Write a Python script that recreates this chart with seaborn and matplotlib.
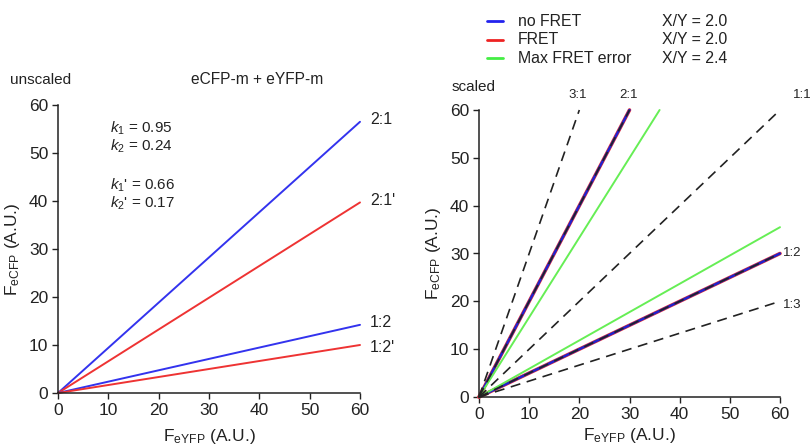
import matplotlib
matplotlib.use("Agg")
import matplotlib.pyplot as plt
import seaborn as sns
import pandas as pd
import numpy as np

sns.set_theme(style="ticks")
plt.rcParams['font.family'] = ['Liberation Sans', 'DejaVu Sans']
plt.rcParams['mathtext.fontset'] = 'custom'
plt.rcParams['mathtext.rm'] = 'Liberation Sans'
plt.rcParams['mathtext.it'] = 'Liberation Sans:italic'

# ---- data ----
# left panel (unscaled): end points of lines starting at origin
left_names = ["2:1", "2:1'", "1:2", "1:2'"]
left_x_end = [60, 60, 60, 60]
left_y_end = [56.5, 39.7, 14.2, 10.0]
left_colors = ["#3333ee", "#ee3333", "#3333ee", "#ee3333"]
left_label_y = [57.0, 40.2, 14.6, 9.4]

# right panel (scaled)
ref_names = ["3:1", "1:1", "1:3"]
ref_x_end = [20, 60, 60]
ref_y_end = [60, 60, 20]
ratio_x_end = [30, 60]      # 2:1 and 1:2
ratio_y_end = [60, 30]
err_x_end = [36, 60]        # max FRET error
err_y_end = [60, 35.5]

legend_labels = ["no FRET", "FRET", "Max FRET error"]
legend_ratio = ["X/Y = 2.0", "X/Y = 2.0", "X/Y = 2.4"]
legend_colors = ["#2222ee", "#ee2222", "#44ee44"]

ticks = [0, 10, 20, 30, 40, 50, 60]

W, H = 811, 448
fig = plt.figure(figsize=(W / 100, H / 100), dpi=100)
axL = fig.add_axes([58 / W, (H - 393) / H, (360 - 58) / W, (393 - 105) / H])
axR = fig.add_axes([479 / W, (H - 397) / H, (780 - 479) / W, (397 - 110) / H])


def seg(xe, ye):
    return pd.DataFrame({"x": [0, xe], "y": [0, ye]})


for xe, ye, c in zip(left_x_end, left_y_end, left_colors):
    sns.lineplot(data=seg(xe, ye), x="x", y="y", ax=axL, color=c, lw=1.4)

# right panel
for xe, ye in zip(ratio_x_end, ratio_y_end):
    sns.lineplot(data=seg(xe, ye), x="x", y="y", ax=axR, color="#ee3333", lw=2.6)
    sns.lineplot(data=seg(xe, ye), x="x", y="y", ax=axR, color="#2222cc", lw=1.8)
for xe, ye in zip(err_x_end, err_y_end):
    sns.lineplot(data=seg(xe, ye), x="x", y="y", ax=axR, color="#66ee55", lw=1.4)
for xe, ye in zip(ref_x_end + ratio_x_end, ref_y_end + ratio_y_end):
    sns.lineplot(data=seg(xe, ye), x="x", y="y", ax=axR, color="#222222", lw=1.2,
                 linestyle=(0, (6, 4)))

for ax, lp in ((axL, 7), (axR, 3)):
    ax.set_xlim(0, 60)
    ax.set_ylim(0, 60)
    ax.set_xticks(ticks)
    ax.set_yticks(ticks)
    ax.tick_params(labelsize=12.5, length=4, width=1, color="#222222", labelcolor="#222222", pad=3)
    sns.despine(ax=ax)
    for s in ("left", "bottom"):
        ax.spines[s].set_linewidth(1.1)
        ax.spines[s].set_color("#222222")
    ax.set_xlabel(r"F$_{\mathregular{eYFP}}$ (A.U.)", fontsize=12.5, color="#222222", labelpad=lp)
    ax.set_ylabel(r"F$_{\mathregular{eCFP}}$ (A.U.)", fontsize=12.5, color="#222222", labelpad=5)
    for line in ax.get_lines():
        line.set_clip_on(False)

# left annotations
fig.text(10 / W, 1 - 80 / H, "unscaled", fontsize=11, va="center", color="#222222")
fig.text(257 / W, 1 - 80 / H, "eCFP-m + eYFP-m", fontsize=11.2, va="center", ha="center", color="#222222")
kt = [(128, r"$k_1$ = 0.95"), (146, r"$k_2$ = 0.24"), (185, r"$k_1$' = 0.66"), (203, r"$k_2$' = 0.17")]
for yy, s in kt:
    fig.text(110 / W, 1 - yy / H, s, fontsize=11, va="center", color="#222222")
for name, yv in zip(left_names, left_label_y):
    axL.text(62, yv, name, fontsize=11.5, va="center", color="#222222", clip_on=False)

# right annotations
fig.text(452 / W, 1 - 87 / H, "scaled", fontsize=11, va="center", color="#222222")
for name, xx in [("3:1", 578), ("2:1", 629), ("1:1", 802)]:
    fig.text(xx / W, 1 - 95 / H, name, fontsize=9.5, ha="center", va="center", color="#222222")
for name, yy in [("1:2", 253), ("1:3", 305)]:
    fig.text(783 / W, 1 - yy / H, name, fontsize=9.5, va="center", color="#222222")

# legend
for i, (lab, rat, c) in enumerate(zip(legend_labels, legend_ratio, legend_colors)):
    yy = 1 - (21.5 + 18.3 * i) / H
    fig.add_artist(plt.Line2D([487 / W, 503 / W], [yy, yy], color=c, lw=2))
    fig.text(518 / W, yy, lab, fontsize=11.4, va="center", color="#222222")
    fig.text(662 / W, yy, rat, fontsize=11.4, va="center", color="#222222")

fig.savefig("out.png", dpi=100)
